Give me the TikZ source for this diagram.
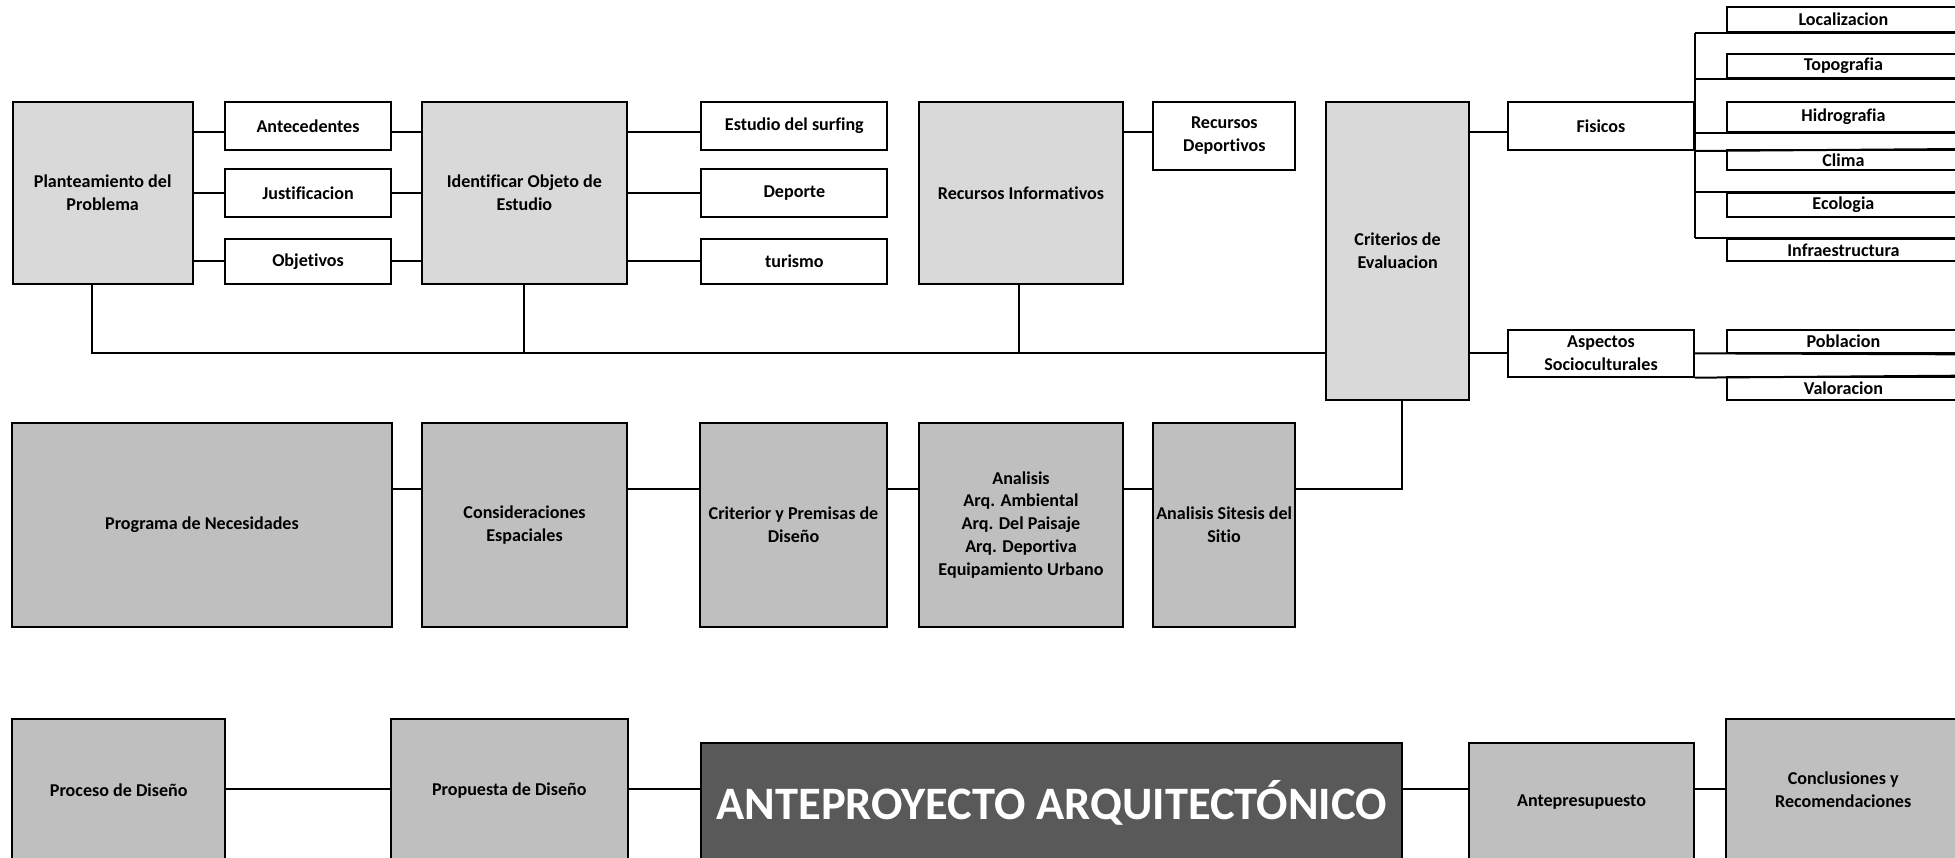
\documentclass[tikz,border=0pt]{standalone}
\usepackage{fontspec}
\setmainfont{Carlito}[Ligatures=NoCommon]
\newcommand\lbl{\fontsize{14.5}{18.4}\selectfont\bfseries}
\newcommand\biglbl{\fontsize{37.3}{44}\selectfont\bfseries}
\definecolor{lightg}{RGB}{217,217,217}
\definecolor{midg}{RGB}{191,191,191}
\definecolor{darkg}{RGB}{89,89,89}
\tikzset{
  bx/.style={draw=black, line width=1.6pt, inner sep=0pt, align=center, font=\lbl},
  lbox/.style={bx, fill=lightg},
  mbox/.style={bx, fill=midg},
  wbox/.style={bx, fill=white},
  conn/.style={draw=black, line width=1.6pt},
  sz/.style n args={2}{minimum width=#1pt, minimum height=#2pt}
}
\begin{document}
\begin{tikzpicture}[x=1pt,y=-1pt]
\useasboundingbox (0,0) rectangle (1568,688);
\fill[white] (0,0) rectangle (1568,688);
\clip (0,0) rectangle (1568,688);

\coordinate (r1) at (0,105.5);
\coordinate (r2) at (0,154.5);
\coordinate (r2b) at (0,209.0);
\coordinate (busy) at (0,283.4);
\coordinate (r3) at (0,391.9);
\coordinate (r4) at (0,633.1);

% ---------- top row ----------
\node[lbox, sz={144.5}{146.2}] (P) at (82.35,154.6) {Planteamiento del\\Problema};
\node[wbox, sz={133.1}{38.8}] (Ant) at (247.05,100.9) {Antecedentes};
\node[wbox, sz={133.1}{38.0}] (Jus) at (247.05,154.8) {Justificacion};
\node[wbox, sz={133.1}{35.8}] (Obj) at (247.05,209.9) {Objetivos};
\node[lbox, sz={164.3}{146.2}] (Id) at (420.55,154.6) {Identificar Objeto de\\Estudio};
\node[wbox, sz={149.2}{38.8}] (Est) at (637.1,100.9) {Estudio del surfing};
\node[wbox, sz={149.2}{38.0}] (Dep) at (637.1,154.8) {Deporte};
\node[wbox, sz={149.2}{35.8}] (Tur) at (637.1,209.9) {turismo};
\node[lbox, sz={163.7}{146.2}] (RI) at (818.85,154.6) {Recursos Informativos};
\node[wbox, sz={114}{54.8}] (RD) at (982,108.9) {Recursos\\Deportivos};
\node[lbox, sz={114.9}{239.3}] (CE) at (1120.95,201.15) {Criterios de\\Evaluacion};
\node[wbox, sz={149.1}{38.8}] (Fis) at (1284.05,100.9) {Fisicos};
\node[wbox, sz={149.1}{37.4}] (Asp) at (1284.05,283.4) {Aspectos\\Socioculturales};

% sub boxes on the right (cut by the page edge)
\node[wbox, sz={187}{19.5}] (Loc) at (1478.5,15.65) {Localizacion};
\node[wbox, sz={187}{18.7}] (Topo) at (1478.5,52.95) {Topografia};
\node[wbox, sz={187}{24.0}] (Hid) at (1478.5,93.5) {Hidrografia};
\node[wbox, sz={187}{16.0}] (Cli) at (1478.5,128.3) {Clima};
\node[wbox, sz={187}{19.3}] (Eco) at (1478.5,164.15) {Ecologia};
\node[wbox, sz={187}{17.0}] (Inf) at (1478.5,200.5) {Infraestructura};
\node[wbox, sz={187}{18.7}] (Pob) at (1478.5,274.05) {Poblacion};
\node[wbox, sz={187}{18.7}] (Val) at (1478.5,311.45) {Valoracion};

% ---------- middle row ----------
\node[mbox, sz={304}{163.1}] (Prog) at (162,421.05) {Programa de Necesidades};
\node[mbox, sz={164.6}{163.1}] (Cons) at (420.7,421.05) {Consideraciones\\Espaciales};
\node[mbox, sz={149.5}{163.1}] (Crit) at (636.45,421.05) {Criterior y Premisas de\\Diseño};
\node[mbox, sz={163.1}{163.1}] (Ana) at (818.85,421.05) {Analisis\\Arq. Ambiental\\Arq. Del Paisaje\\Arq. Deportiva\\Equipamiento Urbano};
\node[mbox, sz={113.6}{163.1}] (Sit) at (981.8,421.05) {Analisis Sitesis del\\Sitio};

% ---------- bottom row ----------
\node[mbox, sz={170.5}{114}] (Proc) at (95.25,634) {Proceso de Diseño};
\node[mbox, sz={189.8}{114}] (Prop) at (408.5,634) {Propuesta de Diseño};
\node[bx, fill=darkg, text=white, font=\biglbl, sz={561.9}{104.3}] (Ante) at (843.55,647.85) {\raisebox{12pt}{ANTEPROYECTO ARQUITECTÓNICO}};
\node[mbox, sz={180.9}{94.6}] (Antp) at (1268.45,643) {Antepresupuesto};
\node[mbox, sz={187.3}{113.5}] (Conc) at (1478.35,633.75) {Conclusiones y\\Recomendaciones};

% ---------- connectors ----------
\draw[conn] (P.east |- r1) -- (Ant.west |- r1);
\draw[conn] (P.east |- r2) -- (Jus.west |- r2);
\draw[conn] (P.east |- r2b) -- (Obj.west |- r2b);
\draw[conn] (Ant.east |- r1) -- (Id.west |- r1);
\draw[conn] (Jus.east |- r2) -- (Id.west |- r2);
\draw[conn] (Obj.east |- r2b) -- (Id.west |- r2b);
\draw[conn] (Id.east |- r1) -- (Est.west |- r1);
\draw[conn] (Id.east |- r2) -- (Dep.west |- r2);
\draw[conn] (Id.east |- r2b) -- (Tur.west |- r2b);
\draw[conn] (RI.east |- r1) -- (RD.west |- r1);
\draw[conn] (CE.east |- r1) -- (Fis.west |- r1);
\draw[conn] (CE.east |- Asp.west) -- (Asp.west);

% bus below the top row
\draw[conn] ([xshift=-8.25pt]P.south) |- (CE.west |- busy);
\draw[conn] (Id.south) -- (Id.south |- busy);
\draw[conn] ([xshift=-1.85pt]RI.south) -- ([xshift=-1.85pt]RI.south |- busy);

% tree of Fisicos
\draw[conn] (Fis.east |- Loc.south) -- (Fis.east |- Inf.north);
\draw[conn] (Fis.east |- Loc.south) -- (Loc.south east);
\draw[conn] (Fis.east |- Topo.south) -- (Topo.south east);
\draw[conn] (Fis.east |- Hid.south) -- (Hid.south east);
\draw[conn] (Fis.south east) -- (Cli.north east);
\draw[conn] (Fis.east |- Eco.north) -- (Eco.north east);
\draw[conn] (Fis.east |- Inf.north) -- (Inf.north east);

% tree of Aspectos
\draw[conn] (Asp.east) -- (Pob.south east);
\draw[conn] (Asp.south east) -- (Val.north east);

% middle row
\draw[conn] (Prog.east |- r3) -- (Cons.west |- r3);
\draw[conn] (Cons.east |- r3) -- (Crit.west |- r3);
\draw[conn] (Crit.east |- r3) -- (Ana.west |- r3);
\draw[conn] (Ana.east |- r3) -- (Sit.west |- r3);
\draw[conn] (Sit.east |- r3) -| ([xshift=3.55pt]CE.south);

% bottom row
\draw[conn] (Proc.east |- r4) -- (Prop.west |- r4);
\draw[conn] (Prop.east |- r4) -- (Ante.west |- r4);
\draw[conn] (Ante.east |- r4) -- (Antp.west |- r4);
\draw[conn] (Antp.east |- r4) -- (Conc.west |- r4);
\end{tikzpicture}
\end{document}
